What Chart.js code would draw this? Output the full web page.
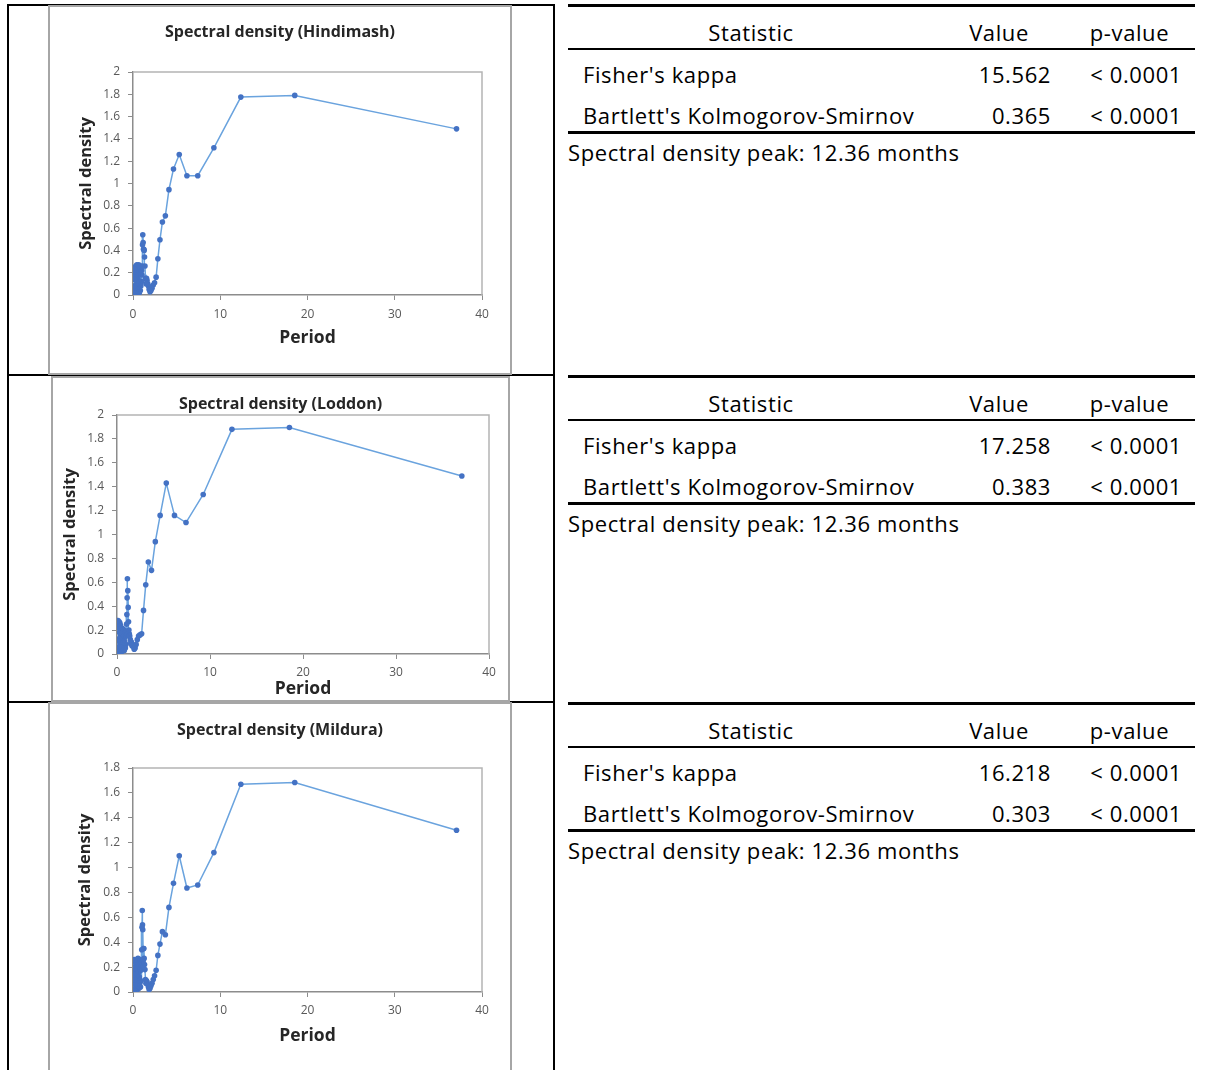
<!DOCTYPE html>
<html>
<head>
<meta charset="utf-8">
<script src="https://cdn.jsdelivr.net/npm/chart.js@4.4.1/dist/chart.umd.min.js"></script>
<style>
  html, body { margin: 0; padding: 0; background: #fff; }
  body { position: relative; width: 1205px; height: 1070px; overflow: hidden; font-family: "Open Sans", sans-serif; color: #000; }
  .rule { position: absolute; background: #000; }
  .frame { position: absolute; box-sizing: border-box; border: 2px solid #a6a6a6; }
  canvas { position: absolute; }
  .stat { position: absolute; left: 568px; width: 627px; height: 160px; font-size: 22px; letter-spacing: 0.6px; }
  .stat div { position: absolute; height: 28px; line-height: 28px; white-space: nowrap; }
</style>
</head>
<body>
<script>
// Perioden (Monate) - gleiche x-Werte fuer alle drei Stationen
const periods = [37.08, 18.54, 12.36, 9.27, 7.42, 6.18, 5.30, 4.64, 4.12, 3.71, 3.37, 3.09, 2.85, 2.65, 2.47, 2.32, 2.18, 2.06, 1.95, 1.85,
  1.77, 1.69, 1.61, 1.55, 1.48, 1.43, 1.37, 1.32, 1.28, 1.24, 1.20, 1.16, 1.12, 1.09, 1.06, 1.03, 1.00,
  0.97, 0.93, 0.90, 0.86, 0.84, 0.81, 0.78, 0.76, 0.73, 0.71, 0.68, 0.66, 0.64, 0.62, 0.59, 0.57, 0.55, 0.53, 0.51, 0.49,
  0.47, 0.46, 0.44, 0.42, 0.41, 0.39, 0.37, 0.35, 0.34, 0.32, 0.31, 0.29, 0.27, 0.25, 0.23, 0.21, 0.19, 0.17, 0.15, 0.13, 0.11]

const hindimash = [1.49, 1.79, 1.775, 1.32, 1.07, 1.07, 1.26, 1.13, 0.945, 0.71, 0.655, 0.495, 0.325, 0.16, 0.11, 0.09, 0.06, 0.04, 0.03, 0.05,
  0.08, 0.10, 0.13, 0.15, 0.10, 0.15, 0.26, 0.34, 0.40, 0.41, 0.41, 0.47, 0.54, 0.45, 0.26, 0.18, 0.22,
  0.12, 0.25, 0.08, 0.20, 0.04, 0.26, 0.10, 0.18, 0.02, 0.24, 0.13, 0.27, 0.06, 0.21, 0.09, 0.25, 0.03, 0.17, 0.26, 0.07,
  0.22, 0.11, 0.27, 0.05, 0.19, 0.24, 0.02, 0.15, 0.26, 0.09, 0.21, 0.04, 0.18, 0.25, 0.06, 0.16, 0.01, 0.23, 0.08, 0.14, 0.02]

const loddon = [1.49, 1.895, 1.88, 1.335, 1.10, 1.16, 1.43, 1.16, 0.94, 0.70, 0.77, 0.58, 0.365, 0.17, 0.16, 0.15, 0.12, 0.08, 0.05, 0.04,
  0.06, 0.08, 0.07, 0.10, 0.09, 0.12, 0.15, 0.17, 0.20, 0.27, 0.39, 0.53, 0.63, 0.47, 0.33, 0.25, 0.15,
  0.08, 0.19, 0.05, 0.15, 0.10, 0.18, 0.03, 0.13, 0.20, 0.06, 0.16, 0.09, 0.21, 0.04, 0.14, 0.11, 0.19, 0.02, 0.17, 0.08,
  0.22, 0.05, 0.12, 0.18, 0.03, 0.15, 0.24, 0.07, 0.20, 0.10, 0.26, 0.04, 0.18, 0.13, 0.27, 0.06, 0.22, 0.02, 0.25, 0.11, 0.28]

const mildura = [1.30, 1.683, 1.669, 1.12, 0.86, 0.836, 1.095, 0.873, 0.68, 0.46, 0.485, 0.385, 0.294, 0.174, 0.13, 0.10, 0.07, 0.05, 0.03, 0.02,
  0.04, 0.06, 0.08, 0.09, 0.07, 0.10, 0.18, 0.22, 0.27, 0.35, 0.35, 0.25, 0.50, 0.54, 0.655, 0.52, 0.34,
  0.20, 0.09, 0.24, 0.04, 0.17, 0.26, 0.07, 0.21, 0.12, 0.25, 0.03, 0.18, 0.23, 0.06, 0.15, 0.27, 0.09, 0.20, 0.02, 0.24,
  0.11, 0.19, 0.05, 0.26, 0.13, 0.22, 0.03, 0.17, 0.25, 0.08, 0.21, 0.01, 0.16, 0.24, 0.06, 0.19, 0.10, 0.26, 0.02, 0.14, 0.01]

const stations = ['Hindimash', 'Loddon', 'Mildura']
const yMaxima = [2, 2, 1.8]
const xTicks = [0, 10, 20, 30, 40]

// Tabellen rechts
const statHeaders = ['Statistic', 'Value', 'p-value']
const statNames = ["Fisher's kappa", "Bartlett's Kolmogorov-Smirnov"]
const hindimashStats = ['15.562', '0.365']
const loddonStats = ['17.258', '0.383']
const milduraStats = ['16.218', '0.303']
const pValues = ['< 0.0001', '< 0.0001']
const peakMonths = ['12.36', '12.36', '12.36']

const FONT = '"Open Sans", sans-serif'

// Seitengeometrie (Pixel), nur Layout
const rules = [
  [7, 4, 548, 2], [7, 4, 2, 1066], [553, 4, 2, 1066],
  [7, 374, 548, 2], [7, 701, 548, 2]
]
const frames = [[48, 5, 464, 370], [51, 376, 459, 326], [48, 702, 464, 380]]
const layouts = [
  { box: [50, 7, 460, 366], plot: [133, 72, 482, 295], titleY: 32.7, yTitleX: 86, periodY: 338.5, xTickY: 315 },
  { box: [53, 378, 455, 322], plot: [117, 415, 489, 654], titleY: 404, yTitleX: 70, periodY: 689.5, xTickY: 673.5 },
  { box: [50, 704, 460, 366], plot: [133, 768, 482, 992], titleY: 730, yTitleX: 85, periodY: 1036, xTickY: 1011.5 }
]
const statTops = [3, 374, 701]

rules.forEach(([x, y, w, h]) => {
  const d = document.createElement('div')
  d.className = 'rule'
  Object.assign(d.style, { left: x + 'px', top: y + 'px', width: w + 'px', height: h + 'px' })
  document.body.appendChild(d)
})
frames.forEach(([x, y, w, h]) => {
  const d = document.createElement('div')
  d.className = 'frame'
  Object.assign(d.style, { left: x + 'px', top: y + 'px', width: w + 'px', height: h + 'px', background: '#fff' })
  document.body.appendChild(d)
})

// Rahmen um den Plotbereich (oben und rechts hellgrau)
const plotFrame = {
  id: 'plotFrame',
  beforeDatasetsDraw(chart) {
    const { ctx, chartArea: a } = chart
    ctx.save()
    ctx.strokeStyle = '#b4b4b4'
    ctx.lineWidth = 1.5
    ctx.beginPath()
    ctx.moveTo(a.left, a.top)
    ctx.lineTo(a.right, a.top)
    ctx.lineTo(a.right, a.bottom)
    ctx.stroke()
    ctx.restore()
  }
}

function makeChart(idx, values) {
  const g = layouts[idx]
  const [bx, by, bw, bh] = g.box
  const [pl, pt, pr, pb] = g.plot
  const canvas = document.createElement('canvas')
  canvas.width = bw
  canvas.height = bh
  Object.assign(canvas.style, { left: bx + 'px', top: by + 'px', width: bw + 'px', height: bh + 'px' })
  document.body.appendChild(canvas)

  const titleSize = 16, axisSize = 16.5, periodSize = 17.5, tickSize = 12
  const tLH = titleSize * 1.2, aLH = axisSize * 1.2, pLH = periodSize * 1.2
  const titlePadTop = g.titleY - by - tLH / 2
  const titlePadBottom = (pt - by) - titlePadTop - tLH
  const leftW = pl - bx
  const rightW = bx + bw - pr
  const bottomH = by + bh - pb
  const tickColor = '#595959'
  const axisColor = '#8c8c8c'

  return new Chart(canvas.getContext('2d'), {
    type: 'scatter',
    data: {
      datasets: [{
        data: periods.map((p, i) => ({ x: p, y: values[i] })),
        showLine: true,
        borderColor: '#6aa3de',
        borderWidth: 1.5,
        pointRadius: 2.8,
        pointBackgroundColor: '#4472c4',
        pointBorderWidth: 0,
        pointHoverRadius: 2.8
      }]
    },
    options: {
      responsive: false,
      animation: false,
      events: [],
      layout: { padding: 0 },
      plugins: {
        legend: { display: false },
        tooltip: { enabled: false },
        title: {
          display: true,
          text: `Spectral density (${stations[idx]})`,
          color: '#262626',
          font: { family: FONT, size: titleSize, weight: 'bold', lineHeight: 1.2 },
          padding: { top: titlePadTop, bottom: titlePadBottom }
        }
      },
      scales: {
        x: {
          type: 'linear',
          min: xTicks[0],
          max: xTicks[xTicks.length - 1],
          afterBuildTicks: s => { s.ticks = xTicks.map(v => ({ value: v })) },
          ticks: { color: tickColor, font: { family: FONT, size: tickSize }, padding: g.xTickY - pb - 5 - 8, maxRotation: 0 },
          grid: { drawOnChartArea: false, tickLength: 5, color: axisColor },
          border: { color: axisColor, width: 1.5 },
          title: {
            display: true, text: 'Period', color: '#262626',
            font: { family: FONT, size: periodSize, weight: 'bold', lineHeight: 1.2 },
            padding: { top: 0, bottom: by + bh - g.periodY - pLH / 2 }
          },
          afterFit: s => { s.height = bottomH }
        },
        y: {
          min: 0,
          max: yMaxima[idx],
          ticks: {
            stepSize: 0.2, color: tickColor, font: { family: FONT, size: tickSize }, padding: 8,
            callback: v => String(+v.toFixed(1))
          },
          grid: { drawOnChartArea: false, tickLength: 5, color: axisColor },
          border: { color: axisColor, width: 1.5 },
          title: {
            display: true, text: 'Spectral density', color: '#262626',
            font: { family: FONT, size: axisSize, weight: 'bold', lineHeight: 1.2 },
            padding: { top: g.yTitleX - bx - aLH / 2, bottom: 0 }
          },
          afterFit: s => { s.width = leftW }
        },
        // leere rechte Achse, nur als Platzhalter, damit der Titel mittig bleibt
        spacer: {
          position: 'right',
          ticks: { display: false },
          grid: { display: false },
          border: { display: false },
          afterFit: s => { s.width = rightW }
        }
      }
    },
    plugins: [plotFrame]
  })
}

function addText(parent, text, left, top, width, align) {
  const d = document.createElement('div')
  d.textContent = text
  Object.assign(d.style, { left: left + 'px', top: top + 'px', width: width + 'px', textAlign: align })
  parent.appendChild(d)
}

function makeStats(idx, values) {
  const T = statTops[idx]
  const block = document.createElement('div')
  block.className = 'stat'
  block.style.top = T + 'px'
  document.body.appendChild(block)

  // Linien: oben dick, unter Kopfzeile duenn, unten dick
  ;[[1, 3], [45, 2], [128, 3]].forEach(([y, h]) => {
    const r = document.createElement('div')
    Object.assign(r.style, { left: '0px', top: y + 'px', width: '627px', height: h + 'px', background: '#000' })
    block.appendChild(r)
  })

  addText(block, statHeaders[0], 0, 15, 366, 'center')
  addText(block, statHeaders[1], 366, 15, 130, 'center')
  addText(block, statHeaders[2], 496, 15, 131, 'center')

  statNames.forEach((name, i) => {
    const top = 57 + i * 41
    addText(block, name, 15, top, 340, 'left')
    addText(block, values[i], 366, top, 117, 'right')
    addText(block, pValues[i], 496, top, 118, 'right')
  })
  addText(block, `Spectral density peak: ${peakMonths[idx]} months`, 0, 135, 600, 'left')
}

makeChart(0, hindimash)
makeChart(1, loddon)
makeChart(2, mildura)
makeStats(0, hindimashStats)
makeStats(1, loddonStats)
makeStats(2, milduraStats)
</script>
</body>
</html>
